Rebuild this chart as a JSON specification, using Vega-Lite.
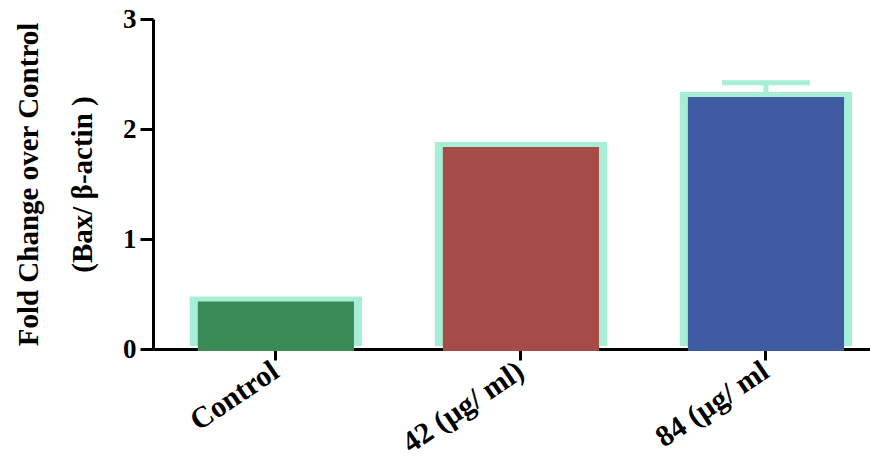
{
  "$schema": "https://vega.github.io/schema/vega-lite/v6.json",
  "width": 717,
  "height": 330,
  "autosize": {"type": "none"},
  "padding": {"left": 153, "top": 19, "right": 0, "bottom": 117},
  "background": "white",
  "config": {
    "view": {"stroke": null},
    "axis": {"grid": false, "zindex": 1, "domainColor": "black", "tickColor": "black", "labelColor": "black", "titleColor": "black", "domainWidth": 3, "tickWidth": 3, "labelFont": "Liberation Serif", "titleFont": "Liberation Serif", "labelFontWeight": "bold", "titleFontWeight": "bold"}
  },
  "data": {
    "values": [
      {"group": "Control", "value": 0.45, "upper": 0.45},
      {"group": "42 (µg/ ml)", "value": 1.855, "upper": 1.855},
      {"group": "84 (µg/ ml", "value": 2.31, "upper": 2.42}
    ]
  },
  "encoding": {
    "x": {
      "field": "group",
      "type": "nominal",
      "sort": null,
      "scale": {"paddingInner": 0.33, "paddingOuter": 0.128, "align": 0.65},
      "axis": {"title": null, "labelAngle": -34, "labelAlign": "right", "labelBaseline": "middle", "labelFontSize": 30, "labelPadding": 8, "tickSize": 11}
    },
    "y": {
      "field": "value",
      "type": "quantitative",
      "scale": {"domain": [0, 3], "nice": false},
      "axis": {"values": [0, 1, 2, 3], "format": "d", "tickSize": 13, "labelPadding": 4, "labelFontSize": 27, "title": ["Fold Change over Control", "(Bax/ β-actin )"], "titleFontSize": 29, "titleLineHeight": 54, "titlePadding": 25}
    }
  },
  "layer": [
    {
      "mark": {"type": "bar", "fill": "#a6efd6", "yOffset": -3, "y2Offset": 3, "width": {"band": 1.049}}
    },
    {
      "mark": {"type": "bar", "yOffset": 2, "y2Offset": -2, "width": {"band": 0.951}},
      "encoding": {
        "fill": {
          "field": "group",
          "type": "nominal",
          "sort": null,
          "scale": {"domain": ["Control", "42 (µg/ ml)", "84 (µg/ ml"], "range": ["#3a8a55", "#a64c48", "#3f5ca3"]},
          "legend": null
        }
      }
    },
    {
      "transform": [{"filter": "datum.upper > datum.value"}],
      "mark": {"type": "rule", "stroke": "#a6efd6", "strokeWidth": 5},
      "encoding": {
        "y": {"field": "value", "type": "quantitative"},
        "y2": {"field": "upper"}
      }
    },
    {
      "transform": [{"filter": "datum.upper > datum.value"}],
      "mark": {"type": "tick", "color": "#a6efd6", "size": 88, "thickness": 5, "opacity": 1},
      "encoding": {
        "y": {"field": "upper", "type": "quantitative"}
      }
    }
  ]
}
